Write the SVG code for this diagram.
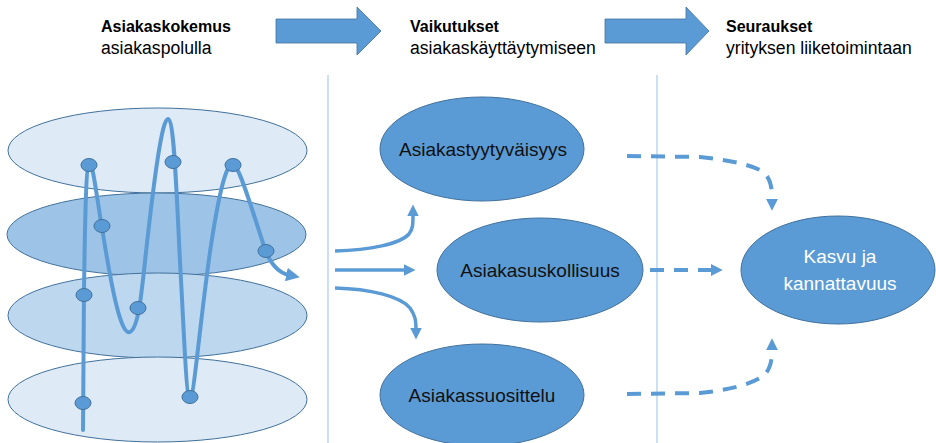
<svg xmlns="http://www.w3.org/2000/svg" width="936" height="443" viewBox="0 0 936 443">
  <style>
    .hdr { font-family: "Liberation Sans", Arial, sans-serif; font-size: 17.6px; fill: #000; }
    .hdr-b { font-family: "Liberation Sans", Arial, sans-serif; font-size: 16px; font-weight: bold; fill: #000; }
    .lbl { font-family: "Liberation Sans", Arial, sans-serif; font-size: 19px; fill: #111; text-anchor: middle; }
    .lbl-w { fill: #fff; }
    .layer { stroke: #41719C; stroke-width: 1; }
    .node { fill: #5B9BD5; stroke: #41719C; stroke-width: 1; }
    .dot { fill: #5B9BD5; stroke: #41719C; stroke-width: 1; }
    .path { fill: none; stroke: #5B9BD5; stroke-width: 4; stroke-linecap: round; stroke-linejoin: round; }
    .flow { fill: none; stroke: #5B9BD5; stroke-width: 3.5; }
    .dash { fill: none; stroke: #5B9BD5; stroke-width: 4; stroke-dasharray: 14 10; }
    .divider { stroke: #A9CBEA; stroke-width: 1.2; }
    .block { fill: #5B9BD5; stroke: #41719C; stroke-width: 0.8; }
  </style>
  <defs>
    <marker id="head" viewBox="0 0 10 10" refX="2" refY="5" markerWidth="3.4" markerHeight="3.4" orient="auto" markerUnits="strokeWidth">
      <path d="M0,0 L10,5 L0,10 Z" fill="#5B9BD5"/>
    </marker>
    <marker id="headDash" viewBox="0 0 10 10" refX="1" refY="5" markerWidth="3" markerHeight="3" orient="auto" markerUnits="strokeWidth">
      <path d="M0,0 L10,5 L0,10 Z" fill="#5B9BD5"/>
    </marker>
  </defs>

  <!-- column headings -->
  <g id="heading-1">
    <text class="hdr-b" x="101" y="32">Asiakaskokemus</text>
    <text class="hdr" x="101" y="54">asiakaspolulla</text>
  </g>
  <g id="heading-2">
    <text class="hdr-b" x="410" y="32">Vaikutukset</text>
    <text class="hdr" x="410" y="54">asiakaskäyttäytymiseen</text>
  </g>
  <g id="heading-3">
    <text class="hdr-b" x="726" y="32">Seuraukset</text>
    <text class="hdr" x="726" y="54">yrityksen liiketoimintaan</text>
  </g>
  <g id="block-arrow-1">
    <polygon class="block" points="276,19 357,19 357,7 381,31 357,55 357,43 276,43"/>
  </g>
  <g id="block-arrow-2">
    <polygon class="block" points="605,19 686,19 686,7 709,31 686,55 686,43 605,43"/>
  </g>

  <!-- column dividers -->
  <line class="divider" x1="328" y1="75" x2="328" y2="443"/>
  <line class="divider" x1="657" y1="75" x2="657" y2="443"/>

  <!-- customer journey: stacked layers -->
  <g id="journey">
    <ellipse class="layer" cx="157.5" cy="150.5" rx="149.5" ry="42.5" fill="#DEEAF6"/>
    <ellipse class="layer" cx="156.5" cy="234.5" rx="149.5" ry="41.5" fill="#9DC3E6"/>
    <ellipse class="layer" cx="157.5" cy="315.5" rx="149.5" ry="42.5" fill="#BDD7EE"/>
    <ellipse class="layer" cx="157.5" cy="399.5" rx="149.5" ry="42.5" fill="#DEEAF6"/>
    <path class="path" marker-end="url(#head)" d="M83,430 L84,290 C85,220 86,165 89,163 C93,161 97,200 103,234 C112,290 121,336 130,332 C138,328 141,300 146,252 C154,180 162,118 168,119 C174,120 176,180 180,262 C184,330 186,398 190,398 C194,398 199,330 210,252 C218,198 226,162 233,164 C240,166 255,220 266,252 C272,266 279,273 289,275"/>
    <ellipse class="dot" cx="89" cy="165" rx="8" ry="6.5"/>
    <ellipse class="dot" cx="102" cy="226" rx="8" ry="6.5"/>
    <ellipse class="dot" cx="84" cy="295" rx="8" ry="6.5"/>
    <ellipse class="dot" cx="138" cy="308" rx="8" ry="6.5"/>
    <ellipse class="dot" cx="173" cy="162" rx="8" ry="6.5"/>
    <ellipse class="dot" cx="233" cy="165" rx="8" ry="6.5"/>
    <ellipse class="dot" cx="266" cy="251" rx="8" ry="6.5"/>
    <ellipse class="dot" cx="83" cy="403" rx="8" ry="6.5"/>
    <ellipse class="dot" cx="190" cy="397" rx="8" ry="6.5"/>
  </g>

  <!-- connectors -->
  <g id="connectors">
    <path class="flow" marker-end="url(#head)" d="M335,251 C370,250 400,244 409,234 C413,229 413,224 413,214"/>
    <path class="flow" marker-end="url(#head)" d="M335,270 L406,270"/>
    <path class="flow" marker-end="url(#head)" d="M335,288 C370,289 400,296 410,308 C415,315 416,320 416,330"/>
    <path class="dash" marker-end="url(#headDash)" d="M627,156 L700,157 C730,160 750,165 760,170 C770,176 772,185 772,200"/>
    <path class="dash" marker-end="url(#headDash)" d="M650,270 L712,270"/>
    <path class="dash" marker-end="url(#headDash)" d="M627,394 L700,393 C730,390 750,384 760,378 C770,372 772,362 772,349"/>
  </g>

  <!-- outcome nodes -->
  <g id="node-tyytyvaisyys">
    <ellipse class="node" cx="482" cy="149" rx="102" ry="52"/>
    <text class="lbl" x="483" y="156">Asiakastyytyväisyys</text>
  </g>
  <g id="node-uskollisuus">
    <ellipse class="node" cx="540" cy="270" rx="103" ry="52"/>
    <text class="lbl" x="540" y="277">Asiakasuskollisuus</text>
  </g>
  <g id="node-suosittelu">
    <ellipse class="node" cx="482" cy="395" rx="102" ry="51"/>
    <text class="lbl" x="482" y="402">Asiakassuosittelu</text>
  </g>
  <g id="node-kasvu">
    <ellipse class="node" cx="838" cy="270" rx="97" ry="54"/>
    <text class="lbl lbl-w" x="840" y="263">Kasvu ja</text>
    <text class="lbl lbl-w" x="840" y="290">kannattavuus</text>
  </g>
</svg>
